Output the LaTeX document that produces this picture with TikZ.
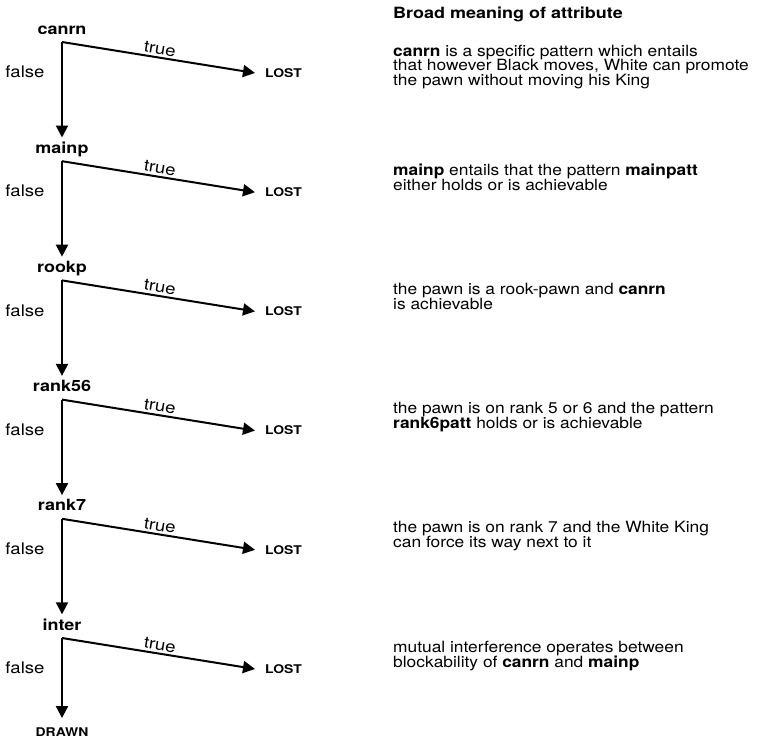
\documentclass[tikz,border=0pt]{standalone}
\usepackage{fontspec}
\setmainfont[FakeStretch=1.16]{TeX Gyre Heros}
\newfontfamily\descfont[FakeStretch=1.12]{TeX Gyre Heros}
\usetikzlibrary{arrows.meta}
\begin{document}
\begin{tikzpicture}[x=1pt,y=-1pt,
  lab/.style={font=\fontsize{15.5}{15.5}\selectfont\bfseries, inner sep=1pt, text height=10.5pt, text depth=3pt, anchor=base},
  outc/.style={font=\fontsize{12}{12}\selectfont\bfseries, inner ysep=0pt},
  tf/.style={font=\fontsize{16}{16}\selectfont},
  desc/.style={font=\descfont\fontsize{15.5}{14.8}\selectfont, align=left, anchor=north west, inner sep=0pt},
  arr/.style={line width=2pt, -{Triangle[length=12pt,width=12pt]}},
  ]
\useasboundingbox (0,0) rectangle (780,739);

\foreach \i/\nm in {0/canrn,1/mainp,2/rookp,3/rank56,4/rank7,5/inter}{
  \pgfmathsetmacro\cy{42+119.2*\i}
  \coordinate (c\i) at (62,\cy);
  \node[lab] (l\i) at (62,\cy-8) {\nm};
  \node[outc, anchor=west, inner xsep=10pt] (lost\i) at (255,\cy+31) {LOST};
  \node[tf] (f\i) at (25,\cy+30) {false};
  \draw[arr] (c\i) -- (lost\i.west);
  \path (c\i) -- node[tf, sloped, above, inner sep=3pt] (t\i) {true} (lost\i.west);
}

\node[outc, anchor=base, inner sep=2pt] (drawn) at (62,736) {DRAWN};

\draw[arr, shorten >=4pt] (c0) -- (l1.north);
\draw[arr, shorten >=4pt] (c1) -- (l2.north);
\draw[arr, shorten >=4pt] (c2) -- (l3.north);
\draw[arr, shorten >=4pt] (c3) -- (l4.north);
\draw[arr, shorten >=4pt] (c4) -- (l5.north);
\draw[arr, shorten >=7pt] (c5) -- (drawn.north);

\node[font=\fontsize{15.5}{15.5}\selectfont\bfseries, anchor=base west, inner sep=0pt] (head) at (393,18) {Broad meaning of attribute};

\node[desc] (d0) at (393,42+2.5) {\textbf{canrn} is a specific pattern which entails\\that however Black moves, White can promote\\the pawn without moving his King};
\node[desc] (d1) at (393,161.2+2.5) {\textbf{mainp} entails that the pattern \textbf{mainpatt}\\either holds or is achievable};
\node[desc] (d2) at (393,280.4+2.5) {the pawn is a rook-pawn and \textbf{canrn}\\is achievable};
\node[desc] (d3) at (393,399.6+2.5) {the pawn is on rank 5 or 6 and the pattern\\\textbf{rank6patt} holds or is achievable};
\node[desc] (d4) at (393,518.8+2.5) {the pawn is on rank 7 and the White King\\can force its way next to it};
\node[desc] (d5) at (393,638+2.5) {mutual interference operates between\\blockability of \textbf{canrn} and \textbf{mainp}};
\end{tikzpicture}
\end{document}
